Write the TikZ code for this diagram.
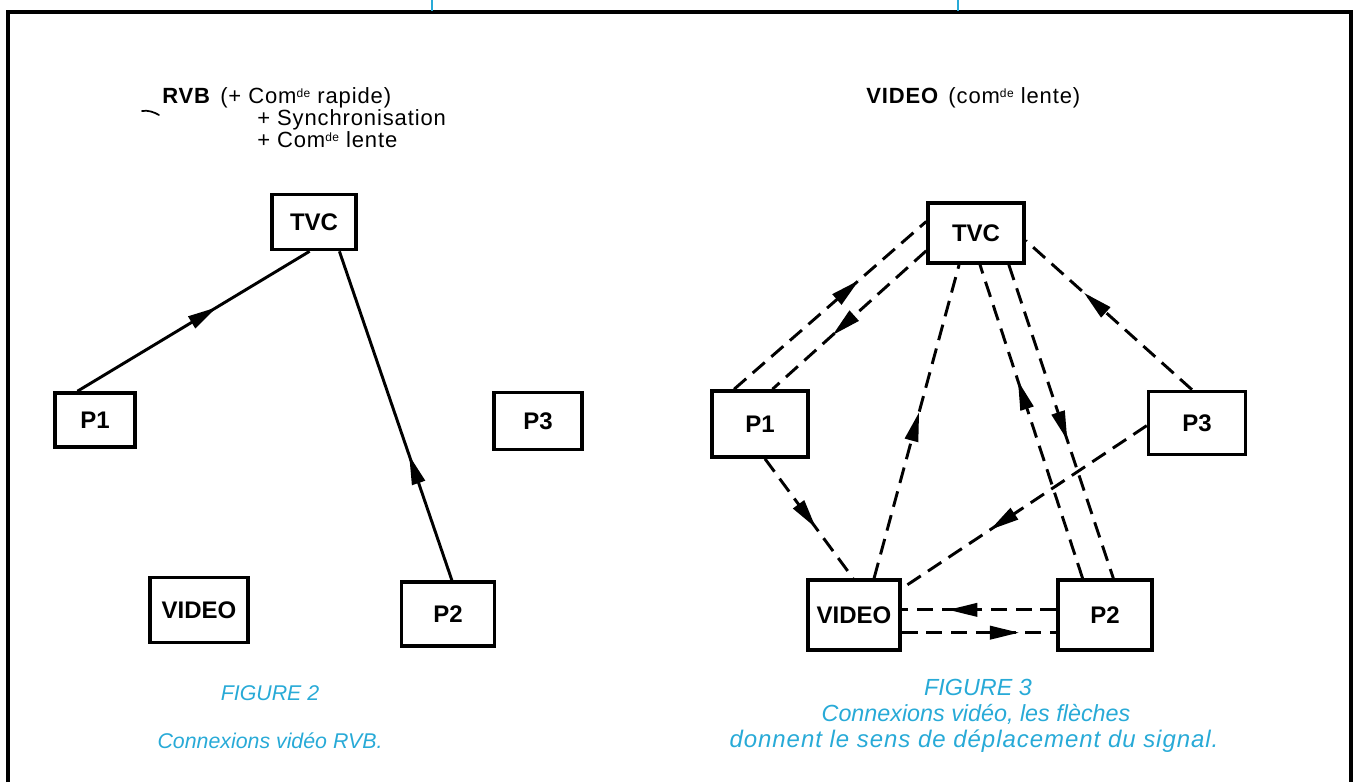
\documentclass[tikz,border=0pt]{standalone}
\usepackage{fontspec}
\setmainfont{Liberation Sans}
\usetikzlibrary{arrows.meta,decorations.markings,calc}
\definecolor{capcyan}{RGB}{40,170,215}
\tikzset{
  box/.style={draw,line width=2.7pt,inner sep=0pt,font=\fontsize{18}{20}\selectfont\bfseries},
  conn/.style={line width=2.2pt},
  dconn/.style={line width=2.2pt,dash pattern=on 12pt off 6.5pt},
  midarrow/.style={postaction={decorate,decoration={markings,mark=at position #1 with {\arrow{Triangle[length=22pt,width=10pt]}}}}},
  hdr/.style={anchor=base west,inner sep=0pt,font=\fontsize{16.5}{18}\selectfont\addfontfeature{LetterSpace=4}},
  capt/.style={anchor=base,inner sep=0pt,text=capcyan,font=\fontsize{16}{18}\selectfont\itshape},
  captR/.style={anchor=base,inner sep=0pt,text=capcyan,font=\fontsize{17.5}{19}\selectfont\itshape},
}
\newcommand{\supde}{\raisebox{0.5ex}{\fontsize{9}{9}\selectfont de}}
\begin{document}
\begin{tikzpicture}[x=0.75pt,y=-0.75pt]
\useasboundingbox (0,0) rectangle (1356,782);
% frame
\draw[line width=3pt,line join=miter] (8,782) -- (8,12) -- (1351,12) -- (1351,782);
\draw[capcyan,line width=1.5pt] (432,0) -- (432,11);
\draw[capcyan,line width=1.5pt] (958,0) -- (958,11);
% stray mark
\draw[line width=1.3pt,line cap=round] (142,111) .. controls (148,110) and (154,112) .. (159,115);

% ---------- left figure ----------
\node[hdr] (h1) at (162,103) {\textbf{RVB}\hspace{7pt}(+ Com\supde\ rapide)};
\node[hdr] (h2) at (257,125) {+ Synchronisation};
\node[hdr] (h3) at (257,147) {+ Com\supde\ lente};

\node[box,minimum width=84*0.75pt,minimum height=55*0.75pt] (tvcL) at (314,222) {TVC};
\node[box,minimum width=80*0.75pt,minimum height=54*0.75pt] (p1L) at (95,420) {P1};
\node[box,minimum width=88*0.75pt,minimum height=57*0.75pt] (p3L) at (538,421) {P3};
\node[box,minimum width=98*0.75pt,minimum height=65*0.75pt] (vidL) at (199,610) {VIDEO};
\node[box,minimum width=93*0.75pt,minimum height=64*0.75pt] (p2L) at (448,614) {P2};

\draw[conn,midarrow=0.6] ($(p1L.north west)!0.29!(p1L.north east)$) -- ($(tvcL.south west)!0.45!(tvcL.south east)$);
\draw[conn,midarrow=0.38] ($(p2L.north west)!0.54!(p2L.north east)$) -- ($(tvcL.south west)!0.79!(tvcL.south east)$);

\node[capt] (c2a) at (270,700) {FIGURE 2};
\node[capt] (c2b) at (270,748) {Connexions vidéo RVB.};

% ---------- right figure ----------
\node[hdr] (h4) at (866,103) {\textbf{VIDEO}\hspace{7pt}(com\supde\ lente)};

\node[box,minimum width=96*0.75pt,minimum height=60*0.75pt] (tvcR) at (976,233) {TVC};
\node[box,minimum width=96*0.75pt,minimum height=66*0.75pt] (p1R) at (760,424) {P1};
\node[box,minimum width=97*0.75pt,minimum height=63*0.75pt] (p3R) at (1197,423) {P3};
\node[box,minimum width=92*0.75pt,minimum height=70*0.75pt] (vidR) at (854,615) {VIDEO};
\node[box,minimum width=94*0.75pt,minimum height=70*0.75pt] (p2R) at (1105,615) {P2};

% P1 -> TVC
\draw[dconn,midarrow=0.65] ($(p1R.north west)!0.24!(p1R.north east)$) -- ($(tvcR.north west)!0.32!(tvcR.south west)$);
% TVC -> P1
\draw[dconn,midarrow=0.61] ($(tvcR.north west)!0.78!(tvcR.south west)$) -- ($(p1R.north west)!0.625!(p1R.north east)$);
% VIDEO -> TVC
\draw[dconn,midarrow=0.53] ($(vidR.north west)!0.71!(vidR.north east)$) -- ($(tvcR.south west)!0.33!(tvcR.south east)$);
% P2 -> TVC
\draw[dconn,midarrow=0.63] ($(p2R.north west)!0.27!(p2R.north east)$) -- ($(tvcR.south west)!0.54!(tvcR.south east)$);
% TVC -> P2
\draw[dconn,midarrow=0.56] ($(tvcR.south west)!0.83!(tvcR.south east)$) -- ($(p2R.north west)!0.585!(p2R.north east)$);
% P3 -> TVC
\draw[dconn,midarrow=0.65] ($(p3R.north west)!0.45!(p3R.north east)$) -- ($(tvcR.north east)!0.62!(tvcR.south east)$);
% P3 -> VIDEO
\draw[dconn,midarrow=0.64] ($(p3R.north west)!0.54!(p3R.south west)$) -- ($(vidR.north east)!0.14!(vidR.south east)$);
% P1 -> VIDEO
\draw[dconn,midarrow=0.58] ($(p1R.south west)!0.55!(p1R.south east)$) -- ($(vidR.north west)!0.49!(vidR.north east)$);
% P2 -> VIDEO
\draw[dconn,midarrow=0.70] ($(p2R.north west)!0.43!(p2R.south west)$) -- ($(vidR.north east)!0.43!(vidR.south east)$);
% VIDEO -> P2
\draw[dconn,midarrow=0.76] ($(vidR.north east)!0.74!(vidR.south east)$) -- ($(p2R.north west)!0.74!(p2R.south west)$);

\node[captR] (c3a) at (978,695) {FIGURE 3};
\node[captR] (c3b) at (976,721) {Connexions vidéo, les flèches};
\node[captR,font=\fontsize{18}{20}\selectfont\itshape\addfontfeature{LetterSpace=4}] (c3c) at (974,747) {donnent le sens de déplacement du signal.};
\end{tikzpicture}
\end{document}
